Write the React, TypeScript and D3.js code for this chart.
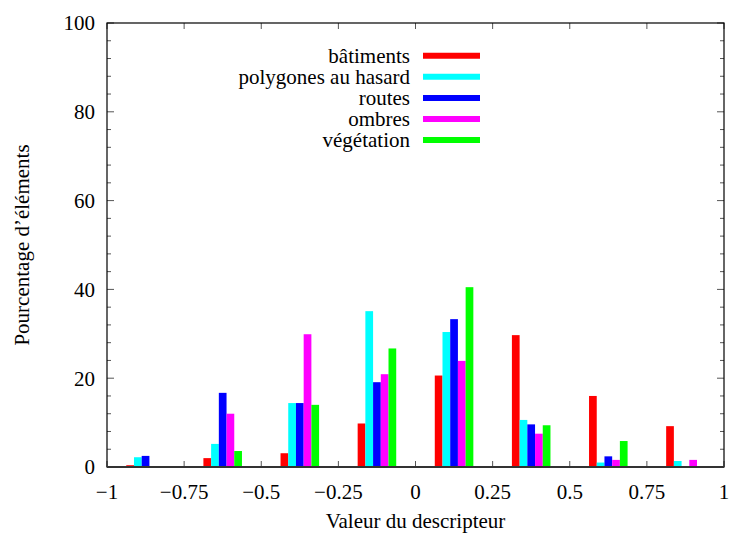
import React from "react";
import * as d3 from "d3";

const binCenters = [-0.875, -0.625, -0.375, -0.125, 0.125, 0.375, 0.625, 0.875];
const seriesNames = ["bâtiments", "polygones au hasard", "routes", "ombres", "végétation"];
const seriesColors = ["#ff0000", "#00ffff", "#0000ff", "#ff00ff", "#00ff00"];
const batiments = [0.4, 2.0, 3.1, 9.8, 20.6, 29.7, 16.0, 9.2];
const polygones = [2.2, 5.2, 14.4, 35.1, 30.4, 10.6, 1.0, 1.35];
const routes = [2.5, 16.7, 14.4, 19.1, 33.3, 9.6, 2.4, 0];
const ombres = [0, 12.0, 29.9, 20.9, 23.9, 7.5, 1.6, 1.6];
const vegetation = [0, 3.6, 14.0, 26.7, 40.5, 9.4, 5.85, 0];
const seriesValues = [batiments, polygones, routes, ombres, vegetation];
const xTicks = [-1, -0.75, -0.5, -0.25, 0, 0.25, 0.5, 0.75, 1];
const xTickLabels = ["−1", "−0.75", "−0.5", "−0.25", "0", "0.25", "0.5", "0.75", "1"];
const yTicks = [0, 20, 40, 60, 80, 100];
const yMinorTicks = d3.range(0, 101, 4);

export default function App() {
  const W = 731, H = 533;
  const left = 107, right = 724, top = 23, bottom = 467;
  const x = d3.scaleLinear().domain([-1, 1]).range([left, right]);
  const y = d3.scaleLinear().domain([0, 100]).range([bottom, top]);
  const barW = 0.025;
  const font = "Liberation Serif";
  const fs = 21;
  return (
    <svg width={W} height={H} style={{ position: "absolute", left: 0, top: 0, background: "#fff" }} fontFamily={font}>
      {seriesValues.map((vals, si) =>
        vals.map((v, bi) => {
          if (v <= 0) return null;
          const x0 = binCenters[bi] + (si - 2.5) * barW;
          return (
            <rect key={`${si}-${bi}`} x={x(x0)} width={x(x0 + barW) - x(x0)} y={y(v)} height={y(0) - y(v)} fill={seriesColors[si]} />
          );
        })
      )}
      {yMinorTicks.map((t) => {
        const major = t % 20 === 0;
        const len = major ? 7 : 4;
        return (
          <g key={"ym" + t} stroke="#555" strokeWidth={1}>
            <line x1={left} x2={left + len} y1={y(t)} y2={y(t)} />
            <line x1={right} x2={right - len} y1={y(t)} y2={y(t)} />
          </g>
        );
      })}
      {xTicks.map((t) => (
        <g key={"xt" + t} stroke="#555" strokeWidth={1}>
          <line x1={x(t)} x2={x(t)} y1={bottom} y2={bottom - 6} />
          <line x1={x(t)} x2={x(t)} y1={top} y2={top + 6} />
        </g>
      ))}
      <rect x={left} y={top} width={right - left} height={bottom - top} fill="none" stroke="#000" strokeWidth={1.2} />
      <line x1={left} x2={right} y1={bottom} y2={bottom} stroke="#333" strokeWidth={1.8} />
      {yTicks.map((t) => (
        <text key={"yl" + t} x={left - 12} y={y(t)} dy="0.35em" textAnchor="end" fontSize={fs}>{t}</text>
      ))}
      {xTicks.map((t, i) => (
        <text key={"xl" + t} x={x(t)} y={bottom + 25} dy="0.35em" textAnchor="middle" fontSize={fs}>{xTickLabels[i]}</text>
      ))}
      <text x={(left + right) / 2} y={521} textAnchor="middle" dy="0.35em" fontSize={fs}>Valeur du descripteur</text>
      <text transform={`translate(22,${(top + bottom) / 2}) rotate(-90)`} textAnchor="middle" dy="0.35em" fontSize={fs}>Pourcentage d’éléments</text>
      {seriesNames.map((n, i) => {
        const yy = 55.7 + i * 21.1;
        return (
          <g key={"lg" + i}>
            <text x={410} y={yy} dy="0.35em" textAnchor="end" fontSize={fs}>{n}</text>
            <line x1={423} x2={480} y1={yy} y2={yy} stroke={seriesColors[i]} strokeWidth={6} />
          </g>
        );
      })}
    </svg>
  );
}
